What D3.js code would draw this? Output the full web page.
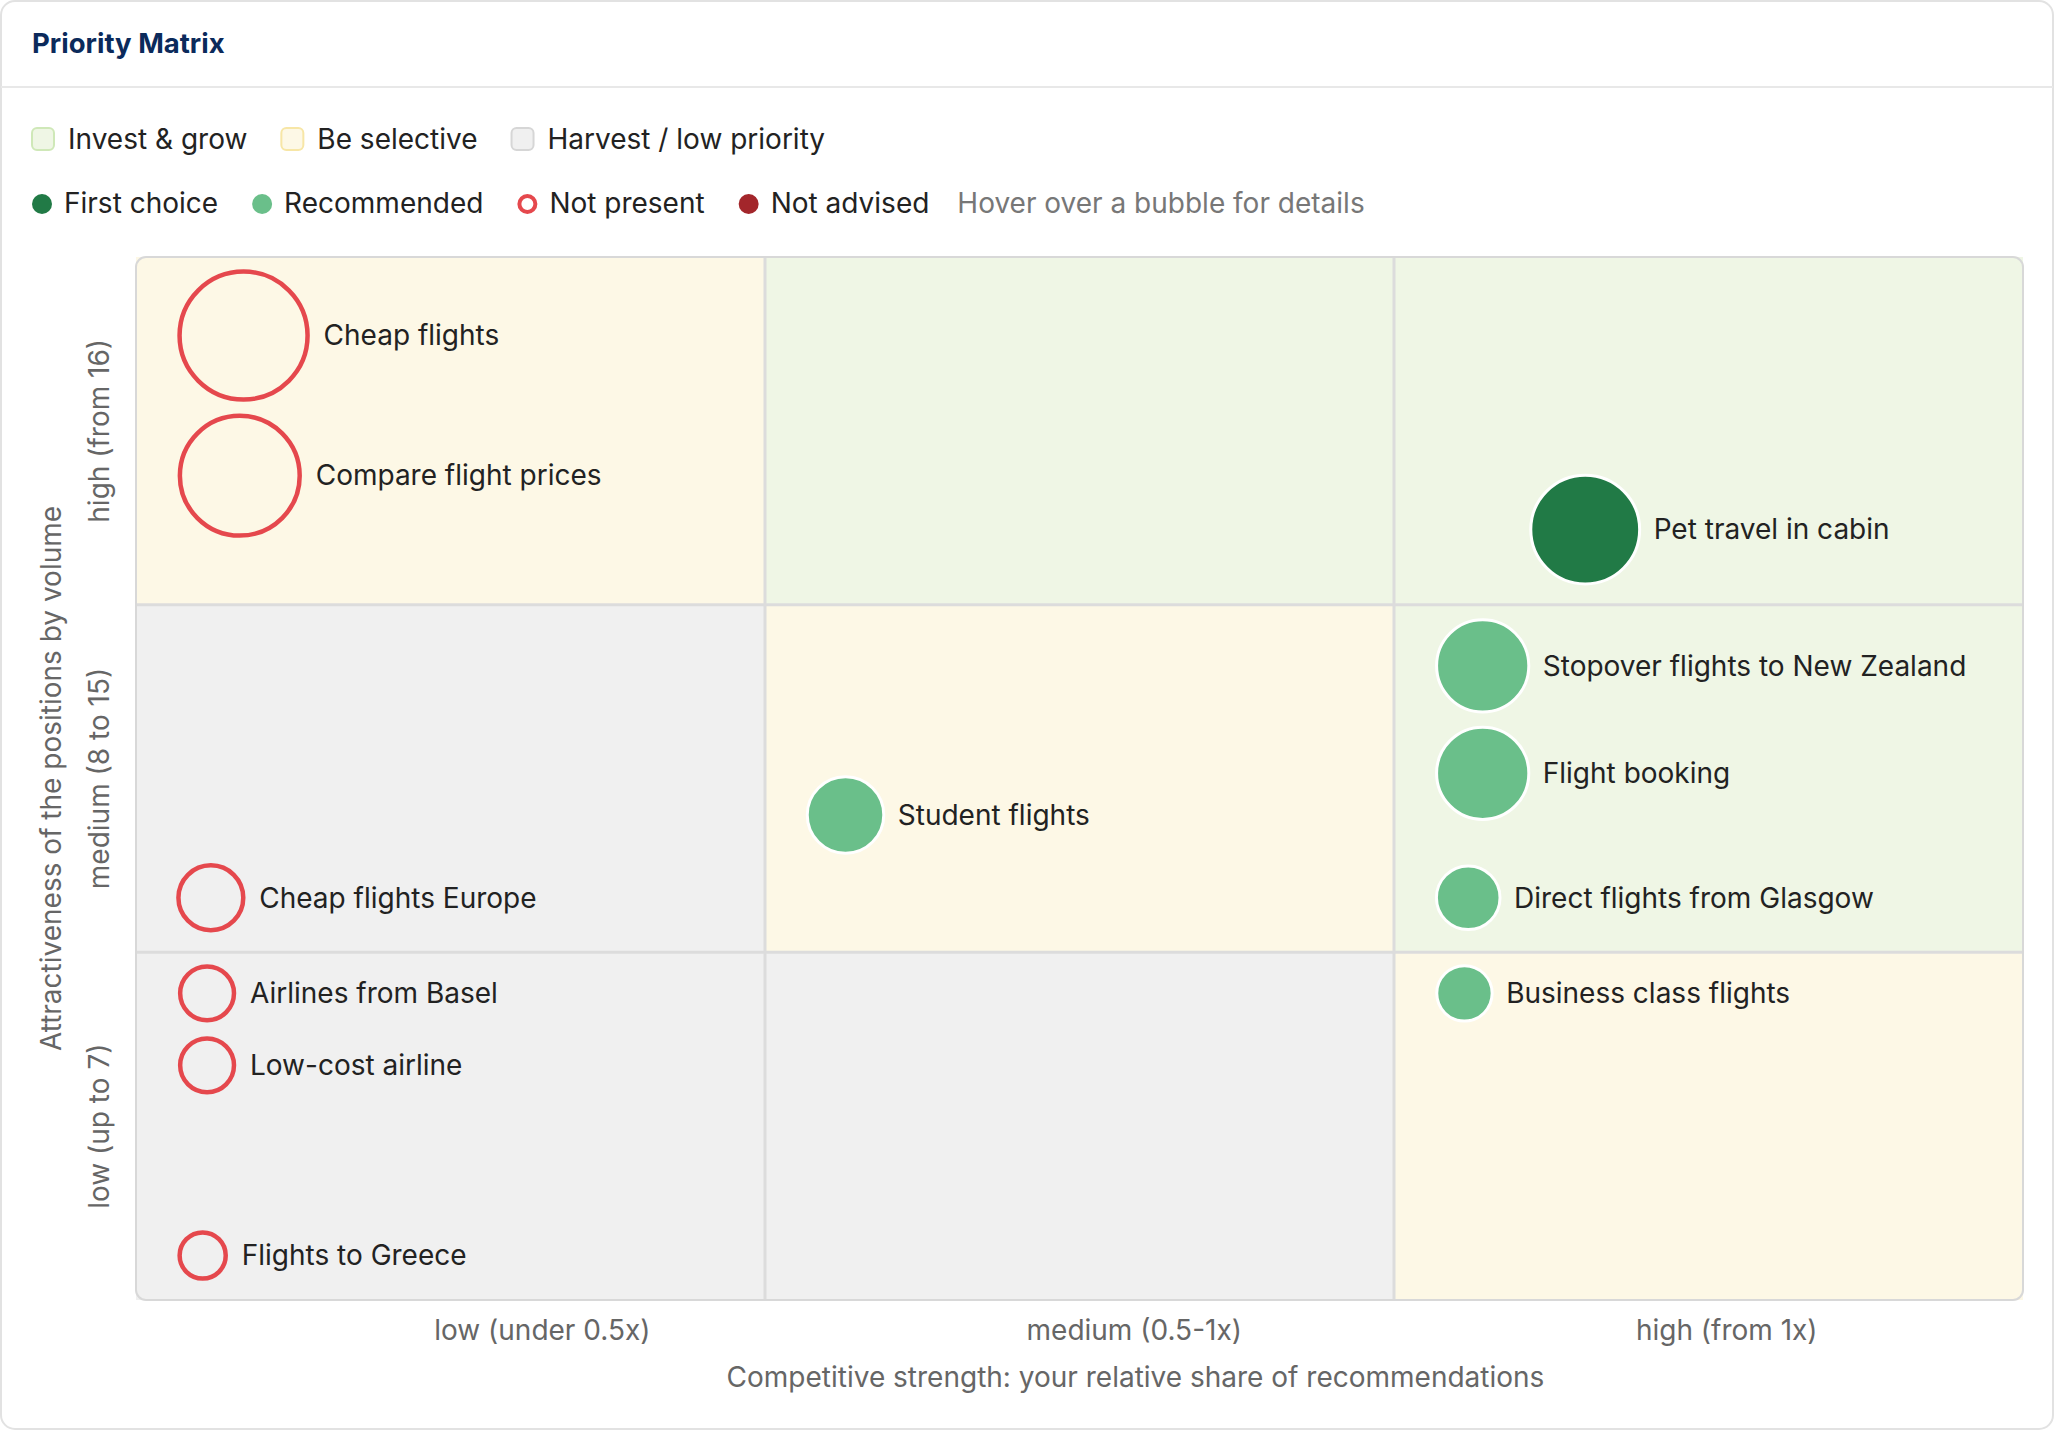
<!DOCTYPE html>
<meta charset="utf-8">
<script src="https://cdn.jsdelivr.net/npm/d3@7"></script>
<style>
body { margin: 0; background: #fff; font-family: Inter, "Noto Sans", sans-serif; }
text { font-family: Inter, "Noto Sans", sans-serif; }
.label { fill: #222; font-size: 28px; }
.tick-label { fill: #666; font-size: 28px; text-anchor: middle; }
.axis-title { fill: #666; font-size: 28px; text-anchor: middle; }
.legend text { fill: #222; font-size: 28px; }
</style>
<body>
<div id="chart"></div>
<script>

// keywords, in zone-score units (0-3 on each axis), size = search volume
var names = ["Cheap flights", "Compare flight prices", "Pet travel in cabin", "Stopover flights to New Zealand",
  "Flight booking", "Direct flights from Glasgow", "Business class flights", "Student flights",
  "Cheap flights Europe", "Airlines from Basel", "Low-cost airline", "Flights to Greece"];
var strength = [0.171, 0.165, 2.304, 2.141, 2.141, 2.118, 2.112, 1.128, 0.119, 0.113, 0.113, 0.106];
var attractiveness = [2.774, 2.371, 2.216, 1.824, 1.515, 1.157, 0.882, 1.395, 1.157, 0.882, 0.675, 0.128];
var volume = [2500, 2200, 1700, 1220, 1220, 580, 440, 840, 680, 480, 480, 360];
var kwStatus = ["absent", "absent", "first", "recommended", "recommended", "recommended", "recommended",
  "recommended", "absent", "absent", "absent", "absent"];

var xTicks = ["low (under 0.5x)", "medium (0.5-1x)", "high (from 1x)"];
var xTickPos = [0.646, 1.587, 2.529];
var yTicks = ["low (up to 7)", "medium (8 to 15)", "high (from 16)"];

// zone type per cell [row][col], row 0 = low
var zones = [["harvest", "harvest", "selective"],
             ["harvest", "selective", "invest"],
             ["selective", "invest", "invest"]];

var zoneFill = {invest: "#eff6e5", selective: "#fdf8e6", harvest: "#f0f0f0"};
var zoneStroke = {invest: "#cfe8b8", selective: "#f7e6a6", harvest: "#d6d6d6"};
var statusFill = {first: "#217a46", recommended: "#6abf8a", absent: "none", advised: "#a3262b"};

var W = 2056, H = 1432;
var plot = {left: 136, right: 2023, top: 257, bottom: 1300};

var svg = d3.select("#chart").append("svg")
    .attr("width", W).attr("height", H);

// card
svg.append("rect").attr("x", 1).attr("y", 1).attr("width", W - 4).attr("height", H - 4)
    .attr("rx", 14).attr("fill", "#fff").attr("stroke", "#e2e2e2").attr("stroke-width", 2);
svg.append("line").attr("x1", 1).attr("x2", W - 3).attr("y1", 87).attr("y2", 87)
    .attr("stroke", "#e8e8e8").attr("stroke-width", 2);
svg.append("text").attr("x", 32).attr("y", 53).text("Priority Matrix")
    .style("font-size", "27.5px").style("font-weight", 700).attr("fill", "#0b2a5b");

// legends
var leg1 = svg.append("g").attr("class", "legend");
var lx = 32;
[["invest", "Invest & grow"], ["selective", "Be selective"], ["harvest", "Harvest / low priority"]].forEach(function(d) {
  leg1.append("rect").attr("x", lx).attr("y", 128).attr("width", 22).attr("height", 22).attr("rx", 5)
      .attr("fill", zoneFill[d[0]]).attr("stroke", zoneStroke[d[0]]).attr("stroke-width", 2);
  var t = leg1.append("text").attr("x", lx + 36).attr("y", 149).text(d[1]);
  lx += 36 + t.node().getComputedTextLength() + 34;
});

var leg2 = svg.append("g").attr("class", "legend");
lx = 32;
[["first", "First choice"], ["recommended", "Recommended"], ["absent", "Not present"], ["advised", "Not advised"]].forEach(function(d) {
  leg2.append("circle").attr("cx", lx + 10).attr("cy", 204).attr("r", d[0] == "absent" ? 8 : 10)
      .attr("fill", d[0] == "absent" ? "none" : statusFill[d[0]])
      .attr("stroke", d[0] == "absent" ? "#e5484d" : "none").attr("stroke-width", 4);
  var t = leg2.append("text").attr("x", lx + 32).attr("y", 213).text(d[1]);
  lx += 32 + t.node().getComputedTextLength() + 34;
});
leg2.append("text").attr("x", lx - 6).attr("y", 213).text("Hover over a bubble for details").style("fill", "#777");

// scales
var x = d3.scaleLinear().domain([0, 3]).range([plot.left, plot.right]);
var y = d3.scaleLinear().domain([0, 3]).range([plot.bottom, plot.top]);
var r = d3.scaleSqrt().domain([0, d3.max(volume)]).range([0, 66]);

// zone cells
var cells = [];
zones.forEach(function(row, i) { row.forEach(function(z, j) { cells.push({row: i, col: j, zone: z}); }); });
svg.append("g").selectAll("rect").data(cells).enter().append("rect")
    .attr("x", function(d) { return x(d.col); })
    .attr("y", function(d) { return y(d.row + 1); })
    .attr("width", x(1) - x(0))
    .attr("height", y(0) - y(1))
    .attr("fill", function(d) { return zoneFill[d.zone]; });

// grid dividers
[1, 2].forEach(function(v) {
  svg.append("line").attr("x1", x(v)).attr("x2", x(v)).attr("y1", y(0)).attr("y2", y(3))
      .attr("stroke", "#dcdcdc").attr("stroke-width", 3);
  svg.append("line").attr("x1", x(0)).attr("x2", x(3)).attr("y1", y(v)).attr("y2", y(v))
      .attr("stroke", "#dcdcdc").attr("stroke-width", 3);
});
svg.append("rect").attr("x", x(0)).attr("y", y(3)).attr("width", x(3) - x(0)).attr("height", y(0) - y(3))
    .attr("rx", 10).attr("fill", "none").attr("stroke", "#d8d8d8").attr("stroke-width", 2);

// tick labels
svg.selectAll(".xt").data(xTicks).enter().append("text").attr("class", "tick-label")
    .attr("x", function(d, i) { return x(xTickPos[i]); }).attr("y", plot.bottom + 40).text(function(d) { return d; });
svg.selectAll(".yt").data(yTicks).enter().append("text").attr("class", "tick-label")
    .attr("transform", function(d, i) { return "translate(109," + y(i + 0.5) + ") rotate(-90)"; })
    .text(function(d) { return d; });
svg.append("text").attr("class", "axis-title").attr("x", x(1.589)).attr("y", plot.bottom + 87)
    .text("Competitive strength: your relative share of recommendations");
svg.append("text").attr("class", "axis-title").attr("transform", "translate(61," + y(1.5) + ") rotate(-90)")
    .text("Attractiveness of the positions by volume");

// bubbles
var data = names.map(function(n, i) {
  return {name: n, sx: strength[i], sy: attractiveness[i], v: volume[i], s: kwStatus[i]};
});
var g = svg.append("g").selectAll("g").data(data).enter().append("g");
g.append("circle")
    .attr("cx", function(d) { return x(d.sx); })
    .attr("cy", function(d) { return y(d.sy); })
    .attr("r", function(d) { return r(d.v) - (d.s == "absent" ? 2 : 0); })
    .attr("fill", function(d) { return statusFill[d.s]; })
    .attr("stroke", function(d) { return d.s == "absent" ? "#e5484d" : "#fff"; })
    .attr("stroke-width", function(d) { return d.s == "absent" ? 4.5 : 3; });
g.append("text").attr("class", "label")
    .attr("x", function(d) { return x(d.sx) + r(d.v) + 14; })
    .attr("y", function(d) { return y(d.sy); })
    .attr("dy", "0.35em")
    .text(function(d) { return d.name; });

</script>
</body>
